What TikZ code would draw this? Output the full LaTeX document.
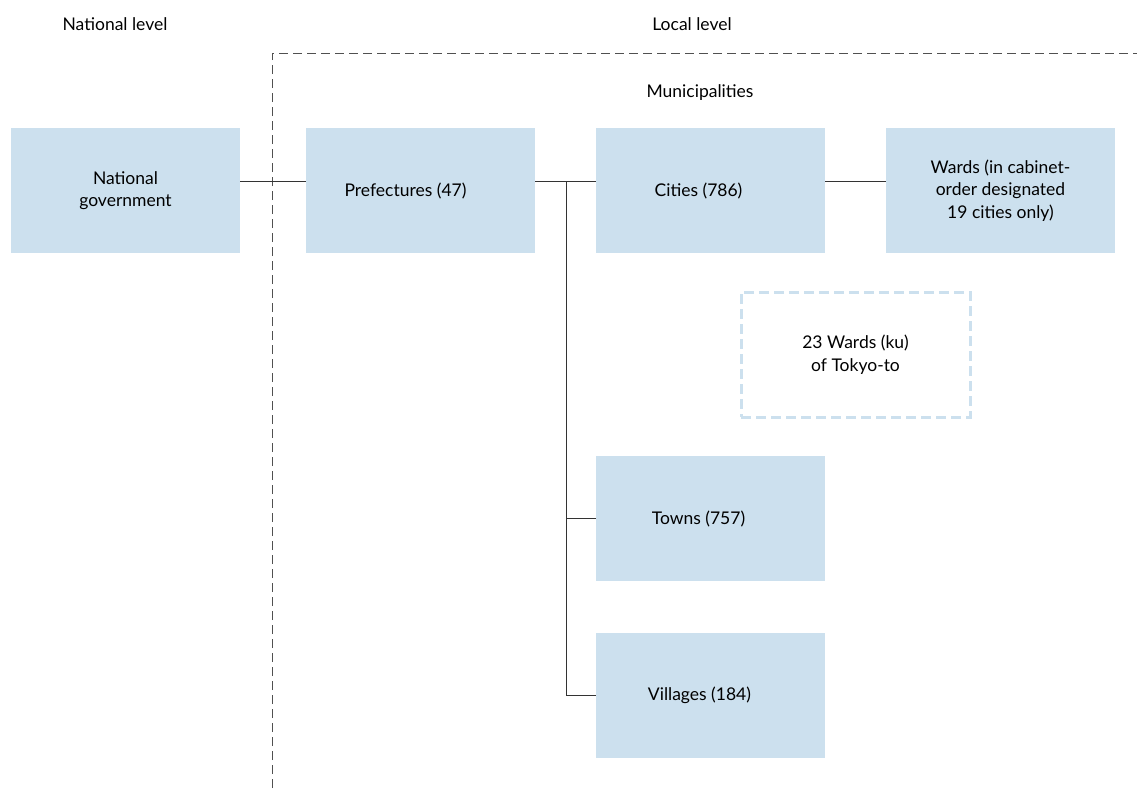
\documentclass[tikz,border=0pt]{standalone}
\usepackage{fontspec}
\setmainfont{Lato}
\usetikzlibrary{positioning}

\definecolor{boxblue}{RGB}{204,224,238}
\definecolor{rulegray}{RGB}{51,51,51}
\definecolor{dashgray}{RGB}{80,80,80}

\begin{document}
\begin{tikzpicture}[
    x=1pt, y=-1pt,
    font=\fontsize{17.5}{22.5}\selectfont,
    box/.style={rectangle, fill=boxblue, minimum width=229pt, minimum height=125pt, inner sep=0pt, outer sep=0pt, align=center},
    dashbox/.style={box, fill=none, draw=boxblue, line width=3pt, dash pattern=on 10pt off 5pt},
    link/.style={draw=rulegray, line width=0.9pt},
    border/.style={draw=dashgray, line width=1pt, dash pattern=on 9pt off 5pt},
    heading/.style={inner sep=0pt},
]
    \useasboundingbox (0,0) rectangle (1137,788);

    % Headings
    \node[heading] (natlevel) at (115,24) {National level};
    \node[heading] (loclevel) at (692,24) {Local level};
    \node[heading] (muni) at (700,93) {Municipalities};

    % Nodes
    \node[box] (nat) at (125.5,190.5) {National\\government};
    \node[box, right=66pt of nat, label={[xshift=-15pt]center:Prefectures (47)}] (pref) {};
    \node[box, right=61pt of pref, label={[xshift=-12pt]center:Cities (786)}] (cities) {};
    \node[box, right=61pt of cities] (wards) {Wards (in cabinet-\\order designated\\19 cities only)};
    \node[dashbox, below=39pt of cities, xshift=145pt] (tokyo) {23 Wards (ku)\\of Tokyo-to};
    \node[box, below=203pt of cities, label={[xshift=-12pt]center:Towns (757)}] (towns) {};
    \node[box, below=52pt of towns, label={[xshift=-11pt]center:Villages (184)}] (villages) {};

    % Local level border
    \coordinate (borderfoot) at (272,788);
    \coordinate (borderend) at (1137,53);
    \draw[border] (borderfoot) |- (borderend);

    % Links
    \coordinate (trunk) at ([xshift=31pt, yshift=9.5pt]pref.east);
    \draw[link] ([yshift=9.5pt]nat.east) -- ([yshift=9.5pt]pref.west);
    \draw[link] ([yshift=9.5pt]pref.east) -- ([yshift=9.5pt]cities.west);
    \draw[link] ([yshift=9.5pt]cities.east) -- ([yshift=9.5pt]wards.west);
    \draw[link] (trunk) |- (villages.west);
    \draw[link] (towns.west) -- (towns.west -| trunk);
\end{tikzpicture}
\end{document}
